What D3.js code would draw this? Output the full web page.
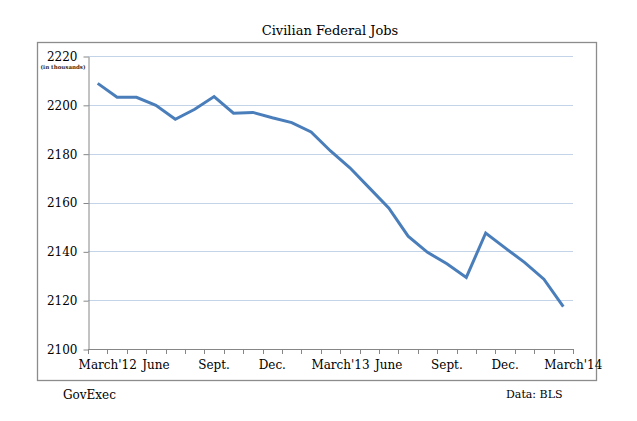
<!DOCTYPE html>
<html>
<head>
<meta charset="utf-8">
<script src="https://d3js.org/d3.v7.min.js"></script>
<style>
  body { margin: 0; background: #fff; }
  text { font-family: "DejaVu Serif", serif; }
</style>
</head>
<body>
<svg id="chart" width="637" height="421"></svg>
<script>
var months = ["Mar12","Apr12","May12","Jun12","Jul12","Aug12","Sep12","Oct12","Nov12","Dec12",
  "Jan13","Feb13","Mar13","Apr13","May13","Jun13","Jul13","Aug13","Sep13","Oct13","Nov13","Dec13",
  "Jan14","Feb14","Mar14"];
var jobs = [2208.8, 2203.1, 2203.1, 2199.8, 2194.1, 2198.2, 2203.4, 2196.6, 2196.9, 2194.7,
  2192.7, 2188.9, 2181.1, 2174.2, 2166.0, 2157.8, 2146.2, 2139.6, 2134.9, 2129.3,
  2147.5, 2141.4, 2135.5, 2128.6, 2117.4];
var labelMonths = ["Mar12","Jun12","Sep12","Dec12","Mar13","Jun13","Sep13","Dec13","Mar14"];
var labelText = ["March'12","June","Sept.","Dec.","March'13","June","Sept.","Dec.","March'14"];
var yTicks = [2100, 2120, 2140, 2160, 2180, 2200, 2220];

var svg = d3.select("#chart");
var plotLeft = 88, plotRight = 573, plotTop = 56, plotBottom = 349;

// outer frame
svg.append("rect")
  .attr("x", 37.5).attr("y", 42.5)
  .attr("width", 559).attr("height", 338)
  .attr("fill", "none")
  .attr("stroke", "#8c8c8c")
  .attr("stroke-width", 1.3);

svg.append("text")
  .attr("x", 330).attr("y", 35)
  .attr("text-anchor", "middle")
  .style("font-size", "13px")
  .text("Civilian Federal Jobs");

var x = d3.scaleBand().domain(months).range([plotLeft, plotRight]);
var y = d3.scaleLinear().domain([2100, 2220]).range([plotBottom, plotTop]);

// gridlines
svg.append("g").selectAll("line")
  .data(yTicks.slice(1))
  .enter()
  .append("line")
  .attr("x1", plotLeft).attr("x2", plotRight)
  .attr("y1", function(d){ return Math.round(y(d)) + 0.5; })
  .attr("y2", function(d){ return Math.round(y(d)) + 0.5; })
  .attr("stroke", "#c3d3e8")
  .attr("stroke-width", 1);

// y axis
var yAxis = svg.append("g")
  .attr("transform", "translate(" + (plotLeft + 0.5) + ",0.5)")
  .call(d3.axisLeft(y).tickValues(yTicks).tickFormat(d3.format("d"))
    .tickSize(5).tickSizeOuter(0).tickPadding(6));
yAxis.select(".domain").attr("stroke", "#868686");
yAxis.selectAll(".tick line").attr("stroke", "#868686");
yAxis.selectAll(".tick text")
  .style("font-family", "DejaVu Serif")
  .style("font-size", "12px")
  .attr("fill", "#000");

svg.append("text")
  .attr("x", 63).attr("y", 69)
  .attr("text-anchor", "middle")
  .style("font-size", "5.5px")
  .style("font-weight", "bold")
  .attr("fill", "#3a2a10")
  .text("(in thousands)");

// x axis: ticks at category boundaries
var xg = svg.append("g").attr("class", "xaxis");
xg.append("line")
  .attr("x1", plotLeft).attr("x2", plotRight)
  .attr("y1", plotBottom + 0.5).attr("y2", plotBottom + 0.5)
  .attr("stroke", "#868686");
xg.selectAll(".xtick")
  .data(months.concat(["end"]))
  .enter()
  .append("line")
  .attr("class", "xtick")
  .attr("x1", function(d, i){ return Math.round(plotLeft + i * x.step()) + 0.5; })
  .attr("x2", function(d, i){ return Math.round(plotLeft + i * x.step()) + 0.5; })
  .attr("y1", plotBottom).attr("y2", plotBottom + 5)
  .attr("stroke", "#868686");
xg.selectAll(".xlabel")
  .data(labelMonths)
  .enter()
  .append("text")
  .attr("class", "xlabel")
  .attr("x", function(d, i){
    var shift = labelText[i].indexOf("'") > 0 ? 10 : 0;
    return x(d) + x.bandwidth() / 2 + shift;
  })
  .attr("y", 369)
  .attr("text-anchor", "middle")
  .style("font-size", "12px")
  .text(function(d, i){ return labelText[i]; });

// the line
var line = d3.line()
  .x(function(d, i){ return x(months[i]) + x.bandwidth() / 2; })
  .y(function(d){ return y(d); });

svg.append("path")
  .datum(jobs)
  .attr("d", line)
  .attr("fill", "none")
  .attr("stroke", "#4a7ebb")
  .attr("stroke-width", 3)
  .attr("stroke-linejoin", "miter");

svg.append("text")
  .attr("x", 63).attr("y", 399)
  .style("font-size", "12px")
  .text("GovExec");

svg.append("text")
  .attr("x", 506).attr("y", 398)
  .style("font-size", "11px")
  .text("Data: BLS");
</script>
</body>
</html>
